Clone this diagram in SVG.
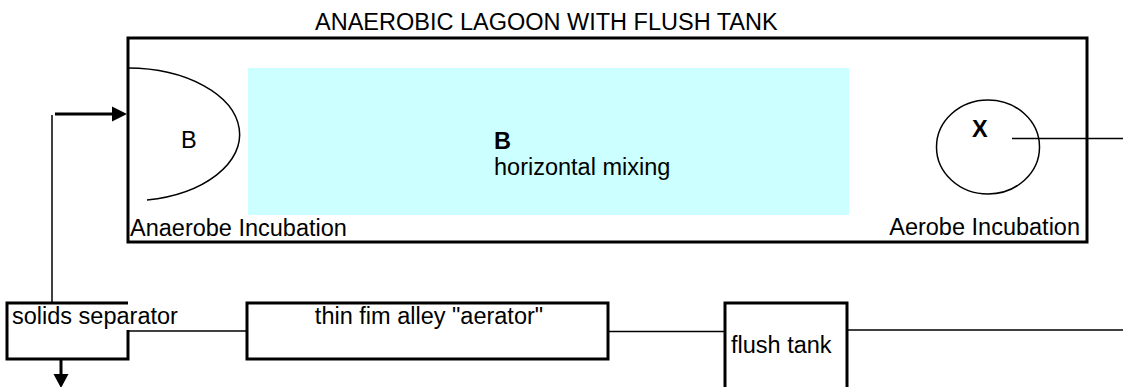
<svg xmlns="http://www.w3.org/2000/svg" width="1123" height="387" viewBox="0 0 1123 387">
<style>
text{font-family:"Liberation Sans",Arial,sans-serif;font-size:23.5px;fill:#000}
.b{font-weight:bold}
.box{fill:none;stroke:#000;stroke-width:3}
.thin{fill:none;stroke:#000;stroke-width:1.5}
.thick{fill:none;stroke:#000;stroke-width:3}
.head{fill:#000;stroke:none}
</style>
<rect width="1123" height="387" fill="#fff"/>
<text x="315" y="30">ANAEROBIC LAGOON WITH FLUSH TANK</text>
<g id="lagoon">
<rect class="box" x="128" y="38" width="959" height="204"/>
</g>
<g id="mixing">
<rect x="248" y="68" width="601" height="147" fill="#ccffff"/>
<text class="b" x="494" y="149">B</text>
<text x="494" y="175">horizontal mixing</text>
</g>
<g id="anaerobe">
<path class="thin" d="M128,68 A112,66.5 0 0 1 147,200"/>
<text x="181" y="148">B</text>
<text x="130" y="236">Anaerobe Incubation</text>
</g>
<g id="aerobe">
<ellipse class="thin" cx="988" cy="147" rx="51.5" ry="47"/>
<text class="b" x="972" y="137">X</text>
<text x="1080" y="235" text-anchor="end">Aerobe Incubation</text>
</g>
<g id="separator">
<path class="box" d="M128,303 H7 V359 H128 V330"/>
<text x="12" y="324">solids separator</text>
</g>
<g id="aerator">
<rect class="box" x="247" y="303" width="361" height="56"/>
<text x="429" y="324" text-anchor="middle">thin fim alley "aerator"</text>
</g>
<g id="flushtank">
<path class="box" d="M725,390 V303 H847 V390"/>
<text x="731" y="353">flush tank</text>
</g>
<g id="connectors">
<path class="thin" d="M52,303 V115"/>
<path class="thick" d="M55,114 H115"/>
<polygon class="head" points="112,106.5 127,114 112,121.5"/>
<path class="thick" d="M61,359 V376"/>
<polygon class="head" points="53.5,374 68.5,374 61,388"/>
<path class="thin" d="M128,331 H247"/>
<path class="thin" d="M608,331.5 H724"/>
<path class="thin" d="M848,330 H1123"/>
<path class="thin" d="M1012,138.5 H1123"/>
</g>
</svg>
